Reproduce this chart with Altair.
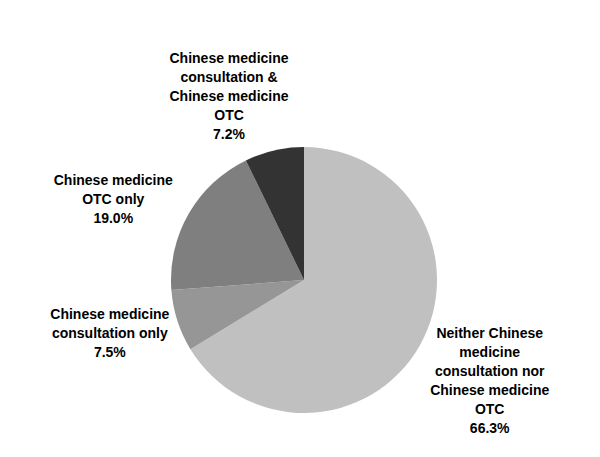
import altair as alt
import pandas as pd

# Data
categories = [
    "Neither Chinese\nmedicine\nconsultation nor\nChinese medicine\nOTC",
    "Chinese medicine\nconsultation only",
    "Chinese medicine\nOTC only",
    "Chinese medicine\nconsultation &\nChinese medicine\nOTC",
]
keys = ["neither", "consult", "otc", "both"]
values = [66.3, 7.5, 19.0, 7.2]
colors = ["#c0c0c0", "#969696", "#7f7f7f", "#333333"]

df = pd.DataFrame({
    "key": keys,
    "category": categories,
    "value": values,
    "idx": list(range(len(keys))),
})
df["label"] = [f"{c}\n{v:.1f}%" for c, v in zip(categories, values)]

base = alt.Chart(df).encode(
    theta=alt.Theta("value:Q", stack=True),
    order=alt.Order("idx:Q"),
)

pie = base.mark_arc(outerRadius=133, stroke=None).encode(
    color=alt.Color("key:N", scale=alt.Scale(domain=keys, range=colors), legend=None)
)

# per-label fine offsets (label placement outside the pie)
offsets = {
    "neither": (7, -46.5),
    "consult": (1, -28),
    "otc": (-13, 3),
    "both": (-29, -21),
}

layers = [pie]
for k in keys:
    dx, dy = offsets[k]
    t = base.transform_calculate(
        txt=f"datum.key == '{k}' ? datum.label : ''"
    ).mark_text(
        radius=205,
        dx=dx,
        dy=dy,
        align="center",
        baseline="middle",
        lineBreak="\n",
        lineHeight=19,
        font="Liberation Sans",
        fontSize=14,
        fontWeight="bold",
        color="#000000",
    ).encode(text="txt:N")
    layers.append(t)

chart = alt.layer(*layers).properties(
    width=400,
    height=320,
    padding={"left": 96, "top": 112, "right": 80, "bottom": 0},
    autosize=alt.AutoSizeParams(type="none"),
    background="#ffffff",
).configure_view(stroke=None)

chart.save("out.html", embed_options={"renderer": "svg", "actions": False})
